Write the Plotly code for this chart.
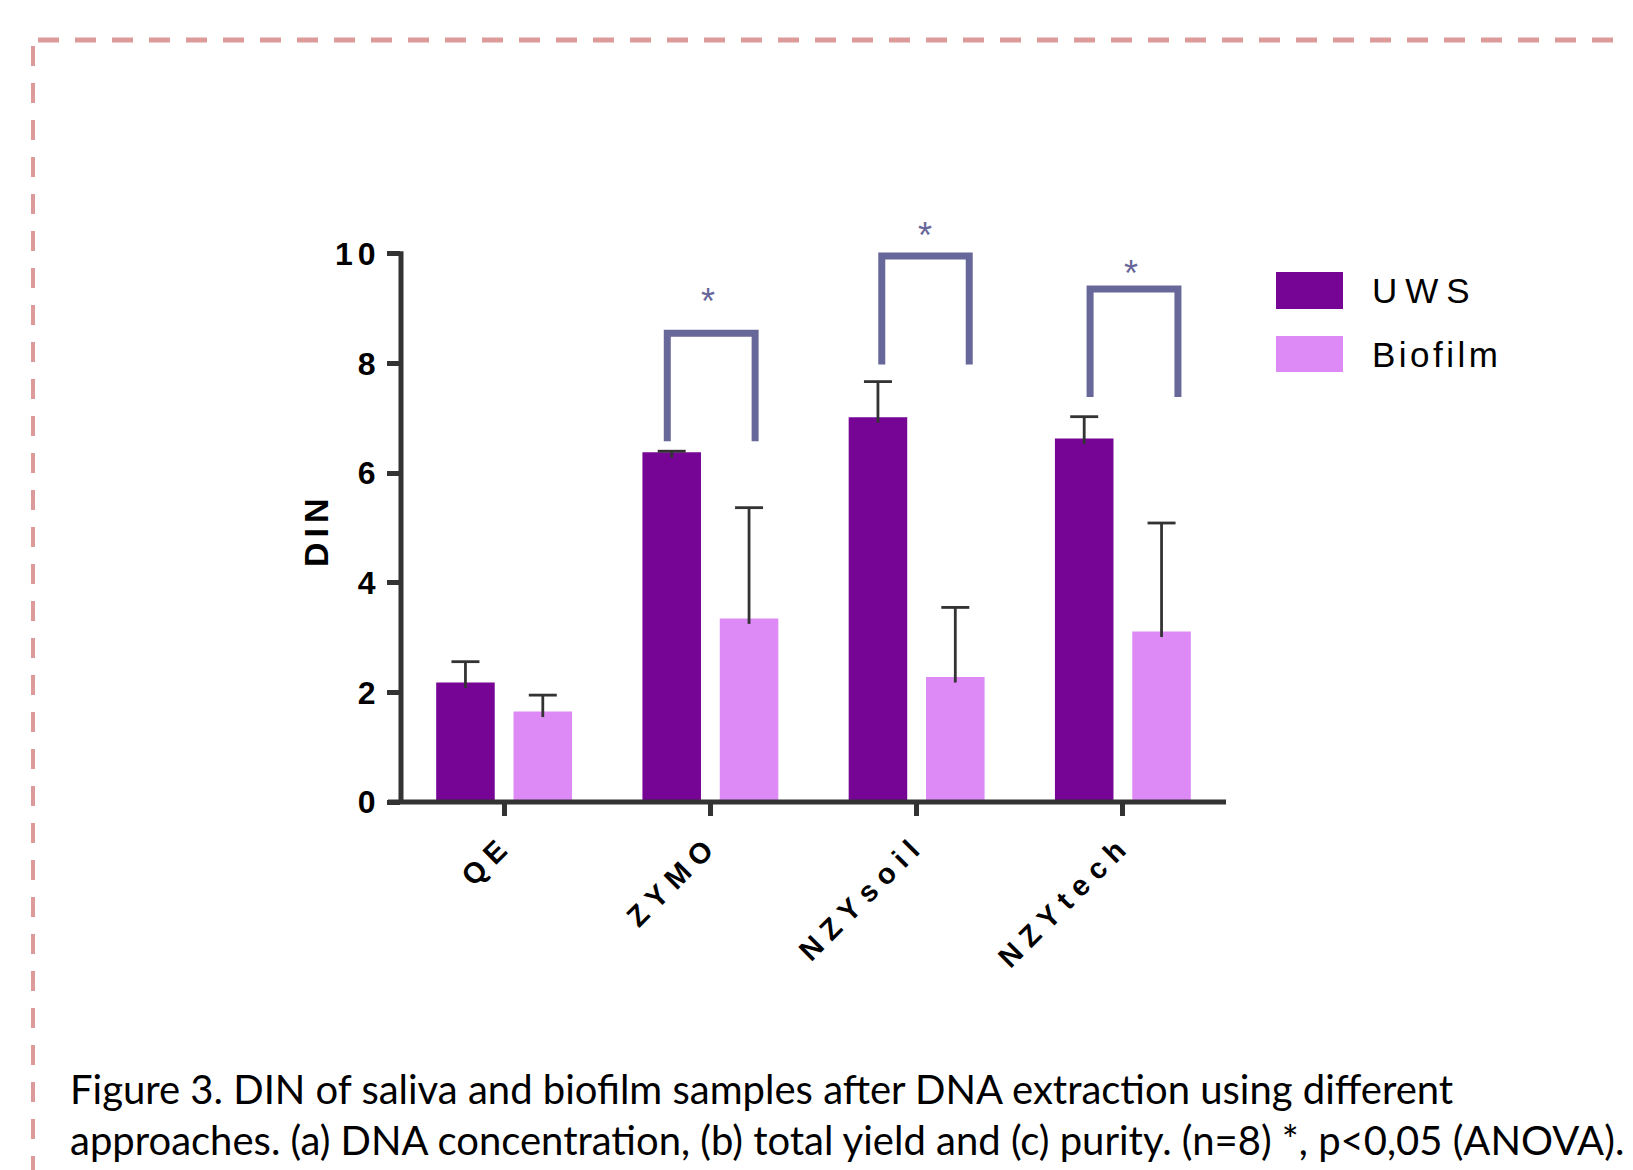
import plotly.graph_objects as go

# ---------------- data ----------------
categories = ["QE", "ZYMO", "NZYsoil", "NZYtech"]
series_names = ["UWS", "Biofilm"]
uws = [2.18, 6.38, 7.02, 6.63]
uws_err = [0.38, 0.02, 0.65, 0.40]
biofilm = [1.65, 3.35, 2.28, 3.11]
biofilm_err = [0.30, 2.02, 1.27, 1.98]
y_ticks = [0, 2, 4, 6, 8, 10]

# significance brackets: category index, top level, leg bottom level
sig_category = [1, 2, 3]
sig_top = [8.55, 9.96, 9.36]
sig_leg = [6.58, 7.98, 7.39]
sig_star = [9.22, 10.42, 9.74]
sig_label = ["*", "*", "*"]

caption_lines = [
    "Figure 3. DIN of saliva and biofilm samples after DNA extraction using different",
    "approaches. (a) DNA concentration, (b) total yield and (c) purity. (n=8) *, p<0,05 (ANOVA).",
]

# ---------------- style ----------------
OFF = 8  # page body margin
W, H = 1633, 1170
L, R, T, B = 393, 415, 213, 376
PW, PH = W - L - R, H - T - B
C_UWS = "#760596"
C_BIO = "#dd89f6"
C_AX = "#333333"
C_SIG = "#676799"
C_BORDER = "#dc9a9a"
BARGAP = 0.25
STEM_DIP = 0.1  # how far the error stem reaches into the bar


def px_x(px):
    return (px - OFF - L) / PW


def px_y(py):
    return (H - B - (py - OFF)) / PH


def spaced(t, s):
    return f'<span style="letter-spacing:{s}px">{t}</span>'


xs = list(range(len(categories)))
group_off = (1 - BARGAP) / 4
fig = go.Figure()
for k, (name, vals, errs, col) in enumerate([
    (series_names[0], uws, uws_err, C_UWS),
    (series_names[1], biofilm, biofilm_err, C_BIO),
]):
    fig.add_trace(go.Bar(
        x=xs, y=vals, name=name, marker=dict(color=col, line=dict(width=0)),
        error_y=dict(type="data", array=errs, arrayminus=[STEM_DIP] * len(errs),
                     symmetric=False, color=C_AX, thickness=2.8, width=0),
        showlegend=False, hoverinfo="skip",
    ))
for k, (vals, errs) in enumerate([(uws, uws_err), (biofilm, biofilm_err)]):
    sgn = -1 if k == 0 else 1
    fig.add_trace(go.Scatter(
        x=[x + sgn * group_off for x in xs], y=[v + e for v, e in zip(vals, errs)],
        mode="markers", marker=dict(symbol="line-ew", size=20, color=C_AX,
                                    line=dict(color=C_AX, width=2.8)),
        showlegend=False, hoverinfo="skip", cliponaxis=False,
    ))

shapes = []
# axes lines
shapes.append(dict(type="line", xref="paper", yref="y", x0=0, x1=0, y0=0, y1=10.05,
                   line=dict(color=C_AX, width=5), layer="above"))
shapes.append(dict(type="line", xref="paper", yref="paper", x0=px_x(388), x1=1, y0=0, y1=0,
                   line=dict(color=C_AX, width=5), layer="above"))

# brackets
left_off = [-0.209, -0.169, -0.159]
right_off = [0.217, 0.255, 0.267]
star_off = [-0.01, 0.039, 0.039]
annotations = []
for i, c in enumerate(sig_category):
    x0 = c + left_off[i]
    x1 = c + right_off[i]
    shapes.append(dict(type="path", xref="x", yref="y",
                       path=f"M{x0},{sig_leg[i]} L{x0},{sig_top[i]} L{x1},{sig_top[i]} L{x1},{sig_leg[i]}",
                       line=dict(color=C_SIG, width=7)))
    annotations.append(dict(x=c + star_off[i], y=sig_star[i], xref="x", yref="y",
                            text=sig_label[i], showarrow=False, yshift=-5,
                            font=dict(family="Arial", size=36, color=C_SIG)))

# legend (manual, large swatches)
leg_y = [(272, 309), (336, 372)]
leg_col = [C_UWS, C_BIO]
leg_sp = [8, 3.5]
for i, nm in enumerate(series_names):
    shapes.append(dict(type="rect", xref="paper", yref="paper",
                       x0=px_x(1276), x1=px_x(1343), y0=px_y(leg_y[i][1]), y1=px_y(leg_y[i][0]),
                       fillcolor=leg_col[i], line=dict(width=0)))
    annotations.append(dict(x=px_x(1370), y=px_y((leg_y[i][0] + leg_y[i][1]) / 2),
                            xref="paper", yref="paper", xanchor="left", yanchor="middle",
                            text=spaced(nm, leg_sp[i]), showarrow=False,
                            font=dict(family="Arial", size=35, color="#000")))

# y title
annotations.append(dict(x=px_x(295), y=px_y(530), xref="paper", yref="paper",
                        text=spaced("DIN", 5), textangle=-90, showarrow=False,
                        font=dict(family="Arial", size=34, color="#000", weight="bold")))

# caption
cap_y = [1089, 1140]
for i, line in enumerate(caption_lines):
    annotations.append(dict(x=px_x(68), y=px_y(cap_y[i]), xref="paper", yref="paper",
                            xanchor="left", yanchor="middle", text=line, showarrow=False,
                            font=dict(family="Lato", size=40, color="#000")))

# dashed border
shapes.append(dict(type="line", xref="paper", yref="paper", x0=px_x(38), x1=px_x(1650),
                   y0=px_y(40), y1=px_y(40), line=dict(color=C_BORDER, width=5, dash="21px,16px")))
shapes.append(dict(type="line", xref="paper", yref="paper", x0=px_x(33), x1=px_x(33),
                   y0=px_y(46), y1=px_y(1185), line=dict(color=C_BORDER, width=4, dash="20px,17px")))

fig.update_layout(
    width=W, height=H, autosize=False,
    margin=dict(l=L, r=R, t=T, b=B, pad=0),
    paper_bgcolor="white", plot_bgcolor="white",
    barmode="group", bargap=BARGAP, bargroupgap=0.243,
    shapes=shapes, annotations=annotations,
    xaxis=dict(range=[-0.5, 3.5], tickmode="array", tickvals=xs,
               ticktext=[spaced(c, 8) for c in categories], tickangle=-45,
               ticks="outside", ticklen=13, tickwidth=5, tickcolor=C_AX,
               showline=False, showgrid=False, zeroline=False,
               tickfont=dict(family="Arial", size=29, color="#000", weight="bold")),
    yaxis=dict(range=[0, 10.6], tickmode="array", tickvals=y_ticks,
               ticktext=[spaced(str(v), 5) for v in y_ticks],
               ticks="outside", ticklen=13, tickwidth=5, tickcolor=C_AX,
               showline=False, showgrid=False, zeroline=False, ticklabelstandoff=0,
               tickfont=dict(family="Arial", size=32, color="#000", weight="bold")),
)

fig.write_html("out.html")
